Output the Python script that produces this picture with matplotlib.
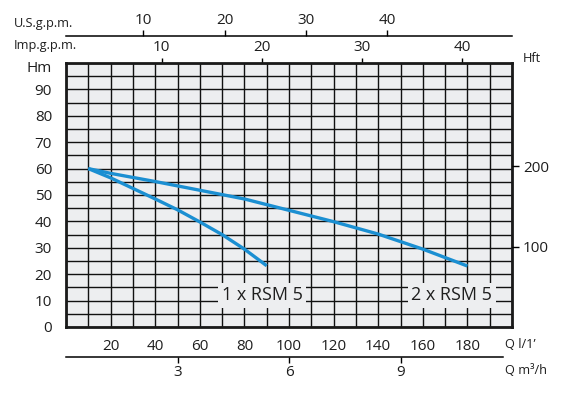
import numpy as np
import matplotlib
matplotlib.use("Agg")
import matplotlib.pyplot as plt

plt.rcParams['font.family'] = ['Open Sans', 'DejaVu Sans']

# ---- data ----
q1 = [10, 20, 30, 40, 50, 60, 70, 80, 90]            # l/min
h1 = [60, 56.5, 52.5, 48.5, 44.4, 39.8, 35.0, 29.5, 23.2]  # m
q2 = [10, 20, 40, 60, 80, 100, 120, 140, 160, 180]
h2 = [60, 58.2, 55.1, 51.8, 48.5, 44.2, 39.9, 35.2, 29.5, 23.1]
label1 = "1 x RSM 5"
label2 = "2 x RSM 5"
x_ticks = [20, 40, 60, 80, 100, 120, 140, 160, 180]
y_ticks = [0, 10, 20, 30, 40, 50, 60, 70, 80, 90]
ft_ticks = [100, 200]
imp_ticks = [10, 20, 30, 40]
us_ticks = [10, 20, 30, 40]
m3_ticks = [3, 6, 9]

# conversions as drawn on the chart
IMP_K, IMP_OFF = 4.493, -2.0
US_K, US_OFF = 3.647, -1.8
M3_K = 16.667
FT = 0.3048

BG = '#edeef0'
BLUE = '#1b8fd2'
TXT = '#1e1e1e'
W, H = 587, 398
FS = 11
FS_SMALL = 9.2

fig = plt.figure(figsize=(W / 100, H / 100), dpi=100)
ax = fig.add_axes([66 / W, 1 - 327 / H, (512 - 66) / W, (327 - 63) / H])
ax.set_facecolor(BG)
ax.set_xlim(0, 200)
ax.set_ylim(0, 100)

ax.set_xticks(x_ticks)
ax.set_xticklabels([str(v) for v in x_ticks], fontsize=FS, color=TXT)
ax.set_xticks(np.arange(0, 201, 10), minor=True)
ax.set_yticks(y_ticks)
ax.set_yticklabels([str(v) for v in y_ticks], fontsize=FS, color=TXT)
ax.set_yticks(np.arange(0, 101, 5), minor=True)
ax.tick_params(which='both', length=0)
ax.tick_params(axis='x', pad=8.5)
ax.tick_params(axis='y', pad=10)
ax.grid(which='both', color='#111111', linewidth=1.0)
ax.set_axisbelow(True)
for s in ax.spines.values():
    s.set_linewidth(2.0)
    s.set_color('#1a1a1a')
    s.set_zorder(5)

ax.plot(q1, h1, color=BLUE, lw=2.4, solid_capstyle='butt', zorder=4)
ax.plot(q2, h2, color=BLUE, lw=2.4, solid_capstyle='butt', zorder=4)

bb = dict(facecolor=BG, edgecolor='none', pad=2.5)
ax.text(88, 12, label1, fontsize=13, ha='center', va='center', color=TXT, bbox=bb, zorder=6)
ax.text(173, 12, label2, fontsize=13, ha='center', va='center', color=TXT, bbox=bb, zorder=6)

# right axis in feet
axr = ax.twinx()
axr.set_ylim(0, 100 / FT)
axr.set_yticks(ft_ticks)
axr.set_yticklabels([str(v) for v in ft_ticks], fontsize=FS, color=TXT)
axr.tick_params(axis='y', direction='out', length=5, width=1, pad=3)
for s in axr.spines.values():
    s.set_visible(False)

# top: Imp.g.p.m.
sec_imp = ax.secondary_xaxis('top', functions=(lambda q: (q - IMP_OFF) / IMP_K,
                                               lambda g: g * IMP_K + IMP_OFF))
sec_imp.set_xticks(imp_ticks)
sec_imp.set_xticklabels([str(v) for v in imp_ticks], fontsize=FS, color=TXT)
sec_imp.tick_params(direction='out', length=3.5, width=1, pad=2)
sec_imp.spines['top'].set_visible(False)

# top: U.S.g.p.m.
sec_us = ax.secondary_xaxis((327 - 36) / 264, functions=(lambda q: (q - US_OFF) / US_K,
                                                          lambda g: g * US_K + US_OFF))
sec_us.set_xticks(us_ticks)
sec_us.set_xticklabels([str(v) for v in us_ticks], fontsize=FS, color=TXT)
sec_us.tick_params(direction='out', length=4, width=1, pad=1.5)
sec_us.spines['top'].set_linewidth(1.1)

# bottom: m3/h
sec_m3 = ax.secondary_xaxis(-(357 - 327) / 264, functions=(lambda q: q / M3_K,
                                                            lambda m: m * M3_K))
sec_m3.set_xticks(m3_ticks)
sec_m3.set_xticklabels([str(v) for v in m3_ticks], fontsize=FS, color=TXT)
sec_m3.tick_params(direction='out', length=4, width=1, pad=2)
sec_m3.spines['bottom'].set_linewidth(1.1)
sec_m3.spines['bottom'].set_bounds(0, 196 / M3_K)

# unit labels
fig.text(14 / W, 1 - 24 / H, "U.S.g.p.m.", fontsize=FS_SMALL, va='center', ha='left', color=TXT)
fig.text(14 / W, 1 - 46 / H, "Imp.g.p.m.", fontsize=FS_SMALL, va='center', ha='left', color=TXT)
fig.text(52 / W, 1 - 68 / H, "Hm", fontsize=FS, va='center', ha='right', color=TXT)
fig.text(523 / W, 1 - 58 / H, "Hft", fontsize=FS_SMALL, va='center', ha='left', color=TXT)
fig.text(505 / W, 1 - 344 / H, "Q l/1\u2019", fontsize=FS_SMALL, va='center', ha='left', color=TXT)
fig.text(505 / W, 1 - 371 / H, "Q m\u00b3/h", fontsize=FS_SMALL, va='center', ha='left', color=TXT)

fig.savefig("out.png", dpi=100, facecolor='white')
